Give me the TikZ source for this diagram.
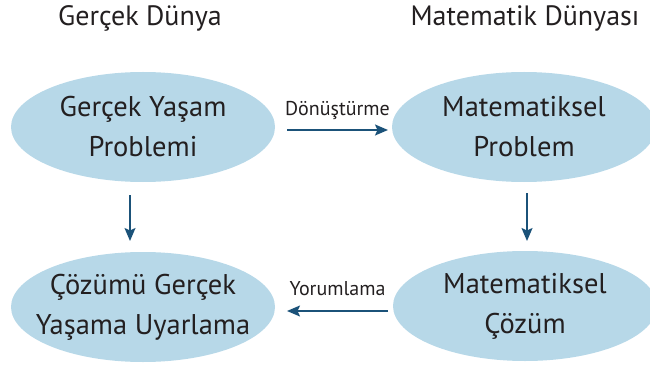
\documentclass[tikz,border=0pt]{standalone}
\usepackage{fontspec}
\setmainfont{PT Sans}
\usetikzlibrary{shapes.geometric,arrows.meta}
\definecolor{ellfill}{HTML}{B7D8E8}
\definecolor{arrcol}{HTML}{1B5279}
\definecolor{txt}{HTML}{231F20}
\tikzset{
  blob/.style={ellipse, fill=ellfill, minimum width=264pt, minimum height=110pt, inner xsep=-30pt, inner ysep=0pt, align=center, text=txt, font=\fontsize{28.5}{40}\selectfont},
  title/.style={text=txt, font=\fontsize{28}{30}\selectfont, inner sep=0pt},
  lbl/.style={text=txt, font=\fontsize{20}{22}\selectfont, inner sep=0pt},
  conn/.style={draw=arrcol, line width=1.6pt, -{Stealth[length=13pt,width=11pt,inset=2.5pt]}}
}
\begin{document}
\begin{tikzpicture}[x=1pt,y=1pt]
\useasboundingbox (0,0) rectangle (650,370);
\node[title] (t1) at (140,352) {Gerçek Dünya};
\node[title] (t2) at (525,352) {Matematik Dünyası};
\node[blob] (a) at (143,243) {Gerçek Yaşam\\Problemi};
\node[blob] (b) at (524,243) {Matematiksel\\Problem};
\node[blob] (c) at (143,63) {Çözümü Gerçek\\Yaşama Uyarlama};
\node[blob] (d) at (525,64) {Matematiksel\\Çözüm};
\coordinate (p1) at (287,240);
\coordinate (p2) at (388,240);
\coordinate (q1) at (388,59);
\coordinate (q2) at (287,59);
\coordinate (v1) at (130,175);
\coordinate (v2) at (130,129);
\coordinate (w1) at (527,177);
\coordinate (w2) at (527,129);
\draw[conn] (p1) -- (p2) node[lbl, midway, above=10pt] (l1) {Dönüştürme};
\draw[conn] (q1) -- (q2) node[lbl, midway, above=14pt] (l2) {Yorumlama};
\draw[conn] (v1) -- (v2);
\draw[conn] (w1) -- (w2);
\end{tikzpicture}
\end{document}
